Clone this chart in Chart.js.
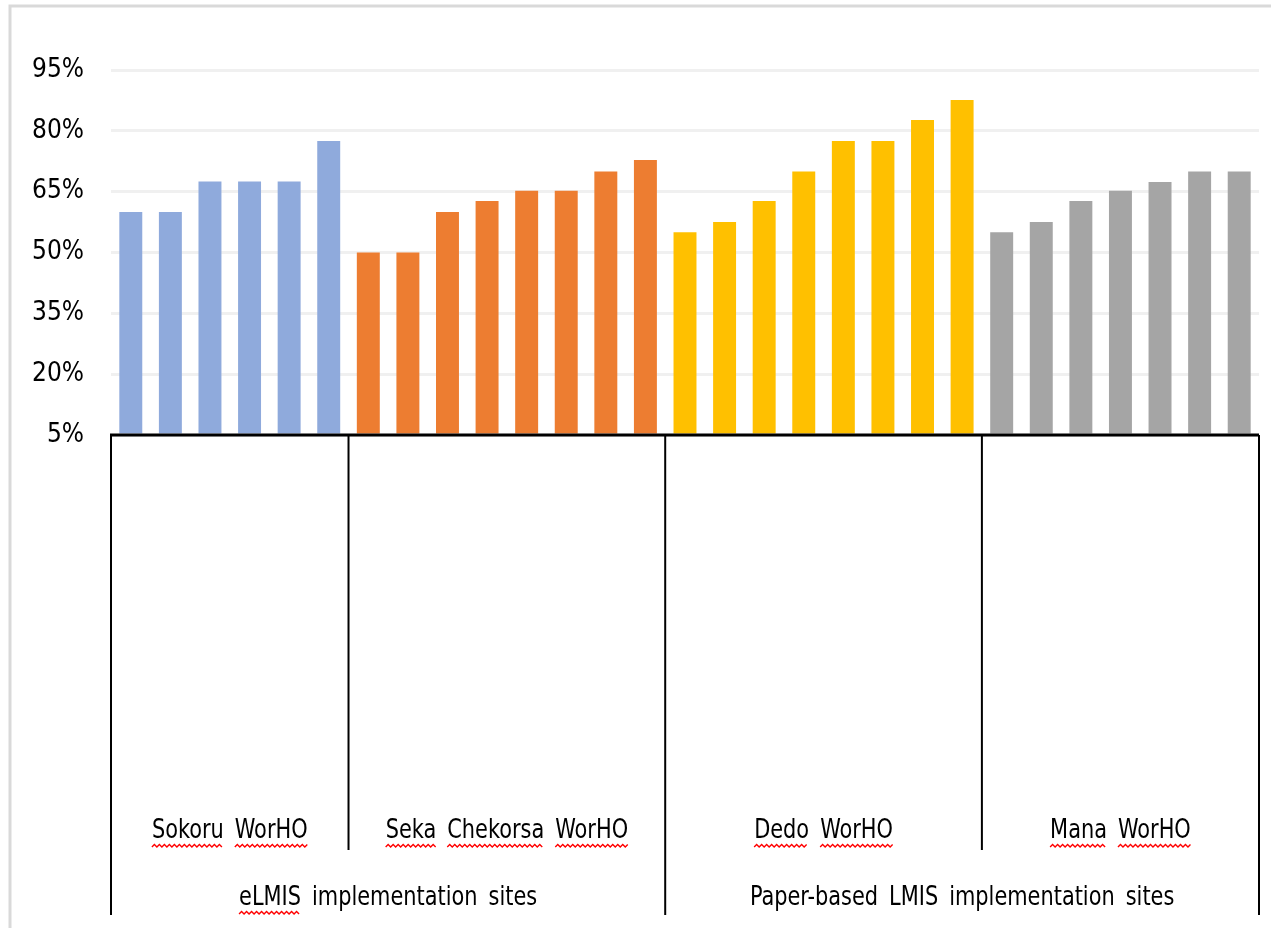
<!DOCTYPE html>
<html>
<head>
<meta charset="utf-8">
<script src="https://cdn.jsdelivr.net/npm/chart.js@4/dist/chart.umd.min.js"></script>
<style>
  html, body { margin: 0; padding: 0; background: #fff; }
  #wrap { width: 1271px; height: 928px; position: relative; }
</style>
</head>
<body>
<div id="wrap"><canvas id="lmisChart"></canvas></div>
<script>
// values (percent)
const sokoru = [60, 60, 67.5, 67.5, 67.5, 77.5];
const sekaChekorsa = [50, 50, 60, 62.7, 65.2, 65.2, 70, 72.8];
const dedo = [55, 57.5, 62.7, 70, 77.5, 77.5, 82.7, 87.6];
const mana = [55, 57.5, 62.7, 65.2, 67.4, 70, 70];

const woredas = ["Sokoru WorHO", "Seka Chekorsa WorHO", "Dedo WorHO", "Mana WorHO"];
const siteTypes = ["eLMIS implementation sites", "Paper-based LMIS implementation sites"];
const groupColors = ["#8faadc", "#ed7d31", "#ffc000", "#a5a5a5"];
const yTicks = [5, 20, 35, 50, 65, 80, 95];

const groups = [sokoru, sekaChekorsa, dedo, mana];
const values = [].concat(...groups);
const labels = [];
const colors = [];
groups.forEach((g, gi) => {
    g.forEach((v, i) => {
        labels.push(woredas[gi] + " " + (i + 1));
        colors.push(groupColors[gi]);
    });
});

// words that get the red spell-check squiggle
const squiggled = ["Sokoru", "WorHO", "Seka", "Chekorsa", "Dedo", "Mana", "eLMIS"];

const FONT = '"DejaVu Sans Condensed", "Liberation Sans Narrow", sans-serif';

function drawSquiggle(ctx, x0, x1, y) {
    ctx.save();
    ctx.strokeStyle = "#ff0000";
    ctx.lineWidth = 1.4;
    ctx.beginPath();
    let up = true;
    ctx.moveTo(x0, y);
    for (let x = x0 + 2.5; x <= x1; x += 2.5) {
        ctx.lineTo(x, up ? y - 2.5 : y);
        up = !up;
    }
    ctx.stroke();
    ctx.restore();
}

// labels in the original are tall and narrow, so squeeze them a little
function drawLabel(ctx, text, cx, cy) {
    const sx = 0.86;
    ctx.save();
    ctx.font = "27px " + FONT;
    ctx.fillStyle = "#000";
    ctx.textBaseline = "middle";
    ctx.textAlign = "left";
    const words = text.split(" ");
    const gap = 11;
    const widths = words.map(w => ctx.measureText(w).width * sx);
    const total = widths.reduce((a, b) => a + b, 0) + gap * (words.length - 1);
    let x = cx - total / 2;
    words.forEach((w, i) => {
        ctx.save();
        ctx.translate(x, cy);
        ctx.scale(sx, 1);
        ctx.fillText(w, 0, 0);
        ctx.restore();
        if (squiggled.includes(w)) drawSquiggle(ctx, x, x + widths[i], cy + 16);
        x += widths[i] + gap;
    });
    ctx.restore();
}

const multiLevelAxis = {
    id: "multiLevelAxis",
    beforeDraw(chart) {
        const ctx = chart.ctx;
        ctx.save();
        ctx.fillStyle = "#fff";
        ctx.fillRect(0, 0, chart.width, chart.height);
        // outer frame of the picture
        ctx.strokeStyle = "#d9d9d9";
        ctx.lineWidth = 3;
        ctx.beginPath();
        ctx.moveTo(10, chart.height);
        ctx.lineTo(10, 6);
        ctx.lineTo(chart.width, 6);
        ctx.stroke();
        ctx.restore();
    },
    afterDraw(chart) {
        const ctx = chart.ctx;
        const x = chart.scales.x;
        const base = chart.chartArea.bottom;
        const lvl1Bottom = base + 415;
        const lvl2Bottom = base + 480;

        // group boundaries
        const bounds = [-0.5];
        let n = -0.5;
        groups.forEach(g => { n += g.length; bounds.push(n); });
        const px = bounds.map(b => x.getPixelForValue(b));

        ctx.save();
        ctx.strokeStyle = "#000";
        ctx.lineWidth = 3;
        ctx.beginPath();
        ctx.moveTo(px[0] - 1, base);
        ctx.lineTo(px[px.length - 1], base);
        ctx.stroke();

        ctx.lineWidth = 2;
        px.forEach((p, i) => {
            const long = (i === 0 || i === 2 || i === 4);
            ctx.beginPath();
            ctx.moveTo(p, base);
            ctx.lineTo(p, long ? lvl2Bottom : lvl1Bottom);
            ctx.stroke();
        });

        woredas.forEach((w, i) => {
            drawLabel(ctx, w, (px[i] + px[i + 1]) / 2, base + 396);
        });
        drawLabel(ctx, siteTypes[0], (px[0] + px[2]) / 2, base + 463);
        drawLabel(ctx, siteTypes[1], (px[2] + px[4]) / 2, base + 463);
        ctx.restore();
    }
};

new Chart(document.getElementById("lmisChart"), {
    type: "bar",
    data: {
        labels: labels,
        datasets: [{
            data: values,
            backgroundColor: colors,
            barPercentage: 0.58,
            categoryPercentage: 1.0,
            base: 5
        }]
    },
    options: {
        responsive: true,
        maintainAspectRatio: false,
        animation: false,
        layout: {
            padding: { top: 70, right: 12, bottom: 493, left: 0 }
        },
        plugins: {
            legend: { display: false },
            tooltip: { enabled: false }
        },
        scales: {
            x: {
                display: false
            },
            y: {
                min: 5,
                max: 95,
                afterFit: scale => { scale.width = 111; },
                afterBuildTicks: scale => {
                    scale.ticks = yTicks.map(v => ({ value: v }));
                },
                ticks: {
                    padding: 27,
                    color: "#000",
                    font: { family: FONT, size: 26 },
                    callback: v => v + "%"
                },
                grid: {
                    color: "#f0f0f0",
                    lineWidth: 3,
                    drawTicks: false
                },
                border: { display: false }
            }
        }
    },
    plugins: [multiLevelAxis]
});
</script>
</body>
</html>
